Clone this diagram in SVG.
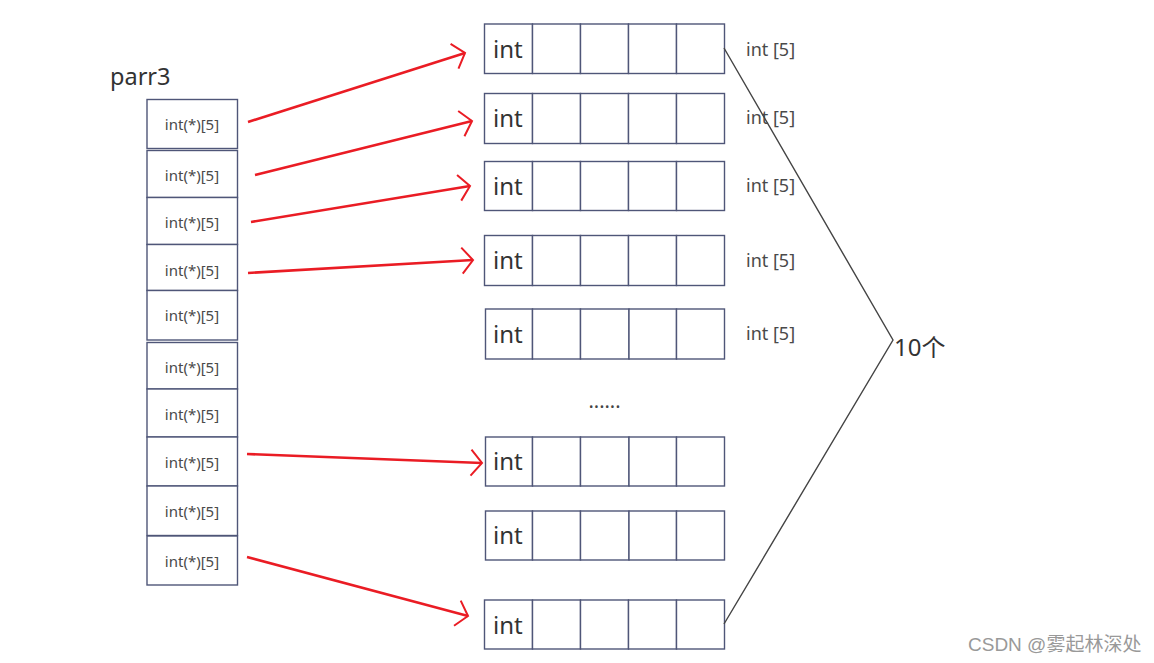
<svg xmlns="http://www.w3.org/2000/svg" width="1154" height="663" viewBox="0 0 1154 663">
<style>
.box{fill:#fff;stroke:#4f5678;stroke-width:1.4}
.ptxt{font-family:"Noto Sans","Open Sans",sans-serif;font-size:15px;fill:#4a4a4a;text-anchor:middle}
.itxt{font-family:"Noto Sans","Open Sans",sans-serif;font-size:24px;fill:#333}
.ltxt{font-family:"Noto Sans","Open Sans",sans-serif;font-size:18px;fill:#4a4a4a}
.red{stroke:#ea1c24;stroke-width:2.6;fill:none;marker-end:url(#ah)}
.blk{stroke:#444;stroke-width:1.4;fill:none}
</style>
<defs>
<marker id="ah" markerUnits="userSpaceOnUse" markerWidth="14" markerHeight="28" refX="12" refY="13" orient="auto" overflow="visible">
<path d="M1,0 L12,13 L1,26" fill="none" stroke="#ea1c24" stroke-width="2"/>
</marker>
</defs>
<rect width="1154" height="663" fill="#fff"/>
<text x="110" y="85" font-family="Noto Sans,sans-serif" font-size="23.5" fill="#333">parr3</text>
<g id="parr3">
<g id="p0"><rect class="box" x="147" y="99.5" width="90.5" height="49"/><text class="ptxt" x="192" y="130">int(*)[5]</text></g>
<g id="p1"><rect class="box" x="147" y="150.5" width="90.5" height="47"/><text class="ptxt" x="192" y="181">int(*)[5]</text></g>
<g id="p2"><rect class="box" x="147" y="197.5" width="90.5" height="47"/><text class="ptxt" x="192" y="228">int(*)[5]</text></g>
<g id="p3"><rect class="box" x="147" y="244.5" width="90.5" height="46"/><text class="ptxt" x="192" y="275.5">int(*)[5]</text></g>
<g id="p4"><rect class="box" x="147" y="290.5" width="90.5" height="49.5"/><text class="ptxt" x="192" y="321">int(*)[5]</text></g>
<g id="p5"><rect class="box" x="147" y="342.5" width="90.5" height="46.5"/><text class="ptxt" x="192" y="373">int(*)[5]</text></g>
<g id="p6"><rect class="box" x="147" y="389" width="90.5" height="48"/><text class="ptxt" x="192" y="420">int(*)[5]</text></g>
<g id="p7"><rect class="box" x="147" y="437" width="90.5" height="49"/><text class="ptxt" x="192" y="467.5">int(*)[5]</text></g>
<g id="p8"><rect class="box" x="147" y="486" width="90.5" height="49.5"/><text class="ptxt" x="192" y="516.5">int(*)[5]</text></g>
<g id="p9"><rect class="box" x="147" y="536" width="90.5" height="49"/><text class="ptxt" x="192" y="566.5">int(*)[5]</text></g>
</g>
<g id="arr0"><rect class="box" x="484.5" y="24" width="48" height="49.5"/><rect class="box" x="532.5" y="24" width="48" height="49.5"/><rect class="box" x="580.5" y="24" width="48" height="49.5"/><rect class="box" x="628.5" y="24" width="48" height="49.5"/><rect class="box" x="676.5" y="24" width="48" height="49.5"/><text class="itxt" x="493" y="57.5">int</text><text class="ltxt" x="746" y="56">int [5]</text></g>
<g id="arr1"><rect class="box" x="484.5" y="93.5" width="48" height="50"/><rect class="box" x="532.5" y="93.5" width="48" height="50"/><rect class="box" x="580.5" y="93.5" width="48" height="50"/><rect class="box" x="628.5" y="93.5" width="48" height="50"/><rect class="box" x="676.5" y="93.5" width="48" height="50"/><text class="itxt" x="493" y="126.5">int</text><text class="ltxt" x="746" y="124">int [5]</text></g>
<g id="arr2"><rect class="box" x="484.5" y="161.5" width="48" height="49"/><rect class="box" x="532.5" y="161.5" width="48" height="49"/><rect class="box" x="580.5" y="161.5" width="48" height="49"/><rect class="box" x="628.5" y="161.5" width="48" height="49"/><rect class="box" x="676.5" y="161.5" width="48" height="49"/><text class="itxt" x="493" y="194.5">int</text><text class="ltxt" x="746" y="192">int [5]</text></g>
<g id="arr3"><rect class="box" x="484.5" y="235.5" width="48" height="50"/><rect class="box" x="532.5" y="235.5" width="48" height="50"/><rect class="box" x="580.5" y="235.5" width="48" height="50"/><rect class="box" x="628.5" y="235.5" width="48" height="50"/><rect class="box" x="676.5" y="235.5" width="48" height="50"/><text class="itxt" x="493" y="268.5">int</text><text class="ltxt" x="746" y="267">int [5]</text></g>
<g id="arr4"><rect class="box" x="485.5" y="309" width="47" height="50"/><rect class="box" x="532.5" y="309" width="48" height="50"/><rect class="box" x="580.5" y="309" width="48.5" height="50"/><rect class="box" x="629" y="309" width="47.5" height="50"/><rect class="box" x="676.5" y="309" width="48" height="50"/><text class="itxt" x="493" y="342.5">int</text><text class="ltxt" x="746" y="340">int [5]</text></g>
<text x="604.5" y="408" font-family="Noto Sans,sans-serif" font-size="20" fill="#444" text-anchor="middle">......</text>
<g id="arr5"><rect class="box" x="485.5" y="437" width="47" height="49"/><rect class="box" x="532.5" y="437" width="48" height="49"/><rect class="box" x="580.5" y="437" width="48.5" height="49"/><rect class="box" x="629" y="437" width="47.5" height="49"/><rect class="box" x="676.5" y="437" width="48" height="49"/><text class="itxt" x="493" y="470">int</text></g>
<g id="arr6"><rect class="box" x="485.5" y="511" width="47" height="49"/><rect class="box" x="532.5" y="511" width="48" height="49"/><rect class="box" x="580.5" y="511" width="48.5" height="49"/><rect class="box" x="629" y="511" width="47.5" height="49"/><rect class="box" x="676.5" y="511" width="48" height="49"/><text class="itxt" x="493" y="544">int</text></g>
<g id="arr7"><rect class="box" x="484.5" y="600" width="48" height="49"/><rect class="box" x="532.5" y="600" width="48" height="49"/><rect class="box" x="580.5" y="600" width="48" height="49"/><rect class="box" x="628.5" y="600" width="48" height="49"/><rect class="box" x="676.5" y="600" width="48" height="49"/><text class="itxt" x="493" y="633.5">int</text></g>
<g id="connectors">
<path class="red" d="M248,122 L465,53"/>
<path class="red" d="M255,175 L472,121"/>
<path class="red" d="M251,222 L470,186"/>
<path class="red" d="M248,273 L473,260"/>
<path class="red" d="M247,454 L482,463"/>
<path class="red" d="M247,557 L468,616"/>
<path class="blk" d="M724,48 L893,340 L724,624"/>
</g>
<text x="894" y="356" font-family="Noto Sans,Noto Sans CJK SC,sans-serif" font-size="24" fill="#333">10个</text>
<text x="968" y="651" font-family="Liberation Sans,Noto Sans CJK SC,sans-serif" font-size="19" fill="#999">CSDN @雾起林深处</text>
</svg>
